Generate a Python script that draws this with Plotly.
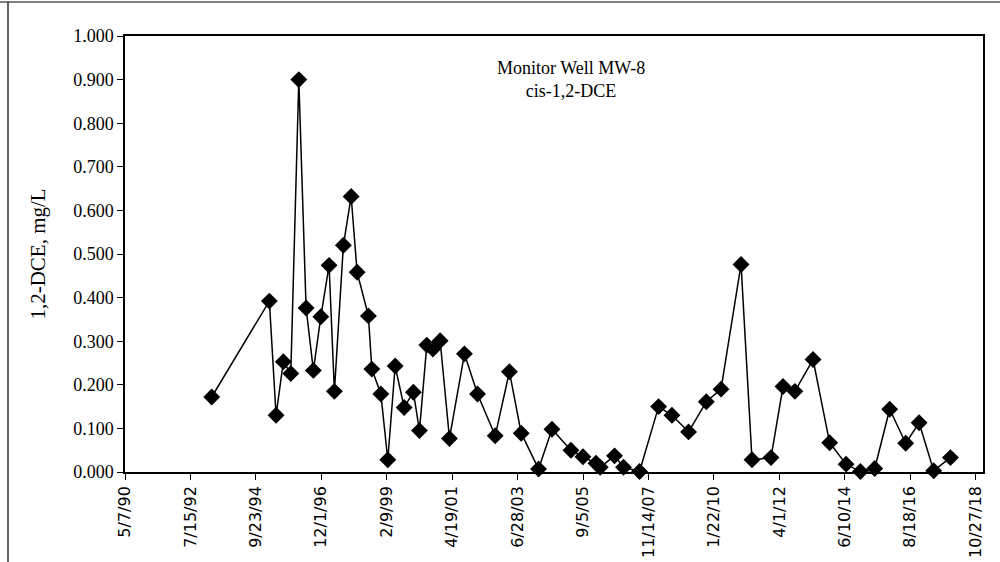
import plotly.graph_objects as go

sample_dates = [
    "1993-04-01", "1995-03-07", "1995-05-28", "1995-08-25", "1995-11-24",
    "1996-03-01", "1996-05-29", "1996-08-26", "1996-11-25", "1997-03-06",
    "1997-05-10", "1997-08-28", "1997-12-01", "1998-02-12", "1998-06-30",
    "1998-08-11", "1998-11-29", "1999-02-22", "1999-05-23", "1999-09-10",
    "2000-01-01", "2000-03-15", "2000-06-13", "2000-08-26", "2000-11-23",
    "2001-03-17", "2001-09-16", "2002-02-23", "2002-09-27", "2003-03-20",
    "2003-08-11", "2004-03-10", "2004-08-21", "2005-04-10", "2005-09-04",
    "2006-02-10", "2006-04-03", "2006-09-25", "2007-01-13", "2007-07-28",
    "2008-03-17", "2008-08-27", "2009-03-18", "2009-10-21", "2010-04-19",
    "2010-12-20", "2011-05-03", "2011-12-21", "2012-05-16", "2012-10-08",
    "2013-05-18", "2013-12-07", "2014-06-26", "2014-12-18", "2015-06-11",
    "2015-12-11", "2016-06-24", "2016-12-05", "2017-06-01", "2017-12-23",
]
dce_mg_l = [
    0.172, 0.392, 0.130, 0.253, 0.226,
    0.900, 0.376, 0.233, 0.356, 0.474,
    0.185, 0.520, 0.632, 0.458, 0.358,
    0.236, 0.179, 0.028, 0.243, 0.148,
    0.183, 0.095, 0.291, 0.282, 0.301,
    0.077, 0.271, 0.179, 0.083, 0.230,
    0.089, 0.007, 0.098, 0.050, 0.035,
    0.020, 0.011, 0.037, 0.011, 0.001,
    0.150, 0.130, 0.092, 0.161, 0.190,
    0.476, 0.028, 0.033, 0.196, 0.185,
    0.258, 0.067, 0.018, 0.001, 0.008,
    0.144, 0.066, 0.113, 0.003, 0.033,
]

x_tick_dates = [
    "1990-05-07", "1992-07-15", "1994-09-23", "1996-12-01", "1999-02-09",
    "2001-04-19", "2003-06-28", "2005-09-05", "2007-11-14", "2010-01-22",
    "2012-04-01", "2014-06-10", "2016-08-18", "2018-10-27",
]
x_tick_labels = [
    "5/7/90", "7/15/92", "9/23/94", "12/1/96", "2/9/99",
    "4/19/01", "6/28/03", "9/5/05", "11/14/07", "1/22/10",
    "4/1/12", "6/10/14", "8/18/16", "10/27/18",
]
y_tick_vals = [0.0, 0.1, 0.2, 0.3, 0.4, 0.5, 0.6, 0.7, 0.8, 0.9, 1.0]
y_tick_labels = [f"{v:.3f}" for v in y_tick_vals]

fig = go.Figure()
fig.add_trace(go.Scatter(
    x=sample_dates, y=dce_mg_l, mode="lines+markers",
    line=dict(color="black", width=1.5),
    marker=dict(symbol="diamond", size=13, color="black"),
    showlegend=False, cliponaxis=False,
))

serif = "Liberation Serif"
fig.update_layout(
    width=1000, height=562,
    margin=dict(l=125, r=17, t=36, b=90, autoexpand=False),
    paper_bgcolor="white", plot_bgcolor="white",
    xaxis=dict(
        type="date", range=["1990-05-07", "2019-01-25"],
        tickmode="array", tickvals=x_tick_dates, ticktext=x_tick_labels,
        tickangle=-90, ticks="outside", ticklen=6, tickcolor="black",
        showline=True, linecolor="black", linewidth=1.5, mirror=True,
        showgrid=False, zeroline=False,
        tickfont=dict(family="DejaVu Sans", size=16, color="black"),
    ),
    yaxis=dict(
        range=[0, 1.0], tickmode="array", tickvals=y_tick_vals, ticktext=y_tick_labels,
        ticks="outside", ticklen=6, tickcolor="black",
        showline=True, linecolor="black", linewidth=1.5, mirror=True,
        showgrid=False, zeroline=False,
        tickfont=dict(family=serif, size=18, color="black"),
        title=dict(text="1,2-DCE, mg/L", font=dict(family=serif, size=21, color="black"), standoff=22),
    ),
    annotations=[
        dict(text="Monitor Well MW-8<br>cis-1,2-DCE", xref="paper", yref="paper",
             x=0.520, y=0.90, xanchor="center", yanchor="middle", showarrow=False,
             font=dict(family=serif, size=18, color="black"), align="center"),
    ],
    shapes=[
        dict(type="line", xref="paper", yref="paper",
             x0=(8 - 125) / 858, x1=(8 - 125) / 858,
             y0=(472 - 562) / 436, y1=(472 - 2) / 436,
             line=dict(color="black", width=1.2), layer="below"),
        dict(type="line", xref="paper", yref="paper",
             x0=(0 - 125) / 858, x1=(1000 - 125) / 858,
             y0=(472 - 2) / 436, y1=(472 - 2) / 436,
             line=dict(color="black", width=1.2), layer="below"),
    ],
)

fig.write_html("out.html", config={"displayModeBar": False},
               post_script="document.body.style.margin='0';")
